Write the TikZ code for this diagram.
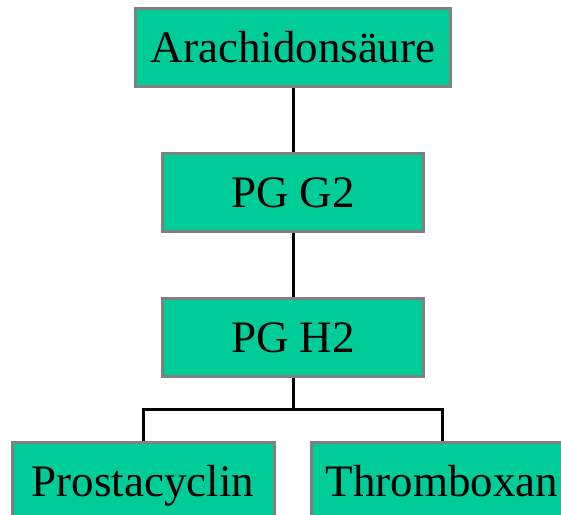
\documentclass[tikz,border=0pt]{standalone}
\usepackage{fontspec}
\setmainfont{Liberation Serif}
\definecolor{boxgreen}{RGB}{0,204,153}
\definecolor{boxborder}{RGB}{128,128,128}
\begin{document}
\begin{tikzpicture}[x=1pt,y=1pt,
  box/.style={draw=boxborder, line width=3pt, fill=boxgreen, rectangle,
    inner sep=0pt, minimum height=78pt, text height=30pt, text depth=0pt,
    font=\fontsize{45}{50}\selectfont},
  link/.style={draw=black, line width=3pt}]
\useasboundingbox (0,0) rectangle (561,-514);
\clip (0,0) rectangle (561,-514);
\node[box, minimum width=315pt] (ara) at (293,-47.5) {Arachidonsäure};
\node[box, minimum width=261pt] (g2) at (293,-192) {PG G2};
\node[box, minimum width=261pt] (h2) at (293,-337) {PG H2};
\node[box, minimum width=262pt] (pro) at (143,-481) {Prostacyclin};
\node[box, minimum width=262pt] (thr) at (442,-481) {Thromboxan};
\coordinate (split) at (293,-409);
\draw[link] (ara.south) -- (g2.north);
\draw[link] (g2.south) -- (h2.north);
\draw[link] (h2.south) -- (split);
\draw[link] (split) -| (pro.north);
\draw[link] (split) -| (thr.north);
\end{tikzpicture}
\end{document}
